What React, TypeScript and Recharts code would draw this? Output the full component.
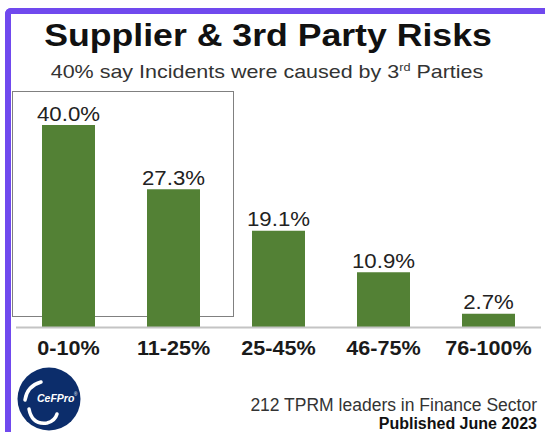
import React from 'react';
import { BarChart, Bar, XAxis, YAxis, LabelList } from 'recharts';

const categories = ['0-10%', '11-25%', '25-45%', '46-75%', '76-100%'];
const values = [40.0, 27.3, 19.1, 10.9, 2.7];
const valueLabels = ['40.0%', '27.3%', '19.1%', '10.9%', '2.7%'];

const TITLE = 'Supplier & 3rd Party Risks';
const SUB_A = '40% say Incidents were caused by 3';
const SUB_SUP = 'rd';
const SUB_B = ' Parties';
const FOOT_1 = '212 TPRM leaders in Finance Sector';
const FOOT_2 = 'Published June 2023';

const data = categories.map((c, i) => ({ name: c, value: values[i], label: valueLabels[i] }));

const FONT = '"Liberation Sans", Arial, sans-serif';
const BAR_COLOR = '#538135';

const Tick = (props: any) => {
  const { x, y, payload } = props;
  return (
    <text
      transform={`translate(${x},${y + 19}) scale(1.08,1)`}
      textAnchor="middle"
      fontFamily={FONT}
      fontWeight="bold"
      fontSize={20}
      fill="#1a1a1a"
    >
      {payload.value}
    </text>
  );
};

const ValueLabel = (props: any) => {
  const { x, y, width, index } = props;
  const cx = Number(x) + Number(width) / 2;
  return (
    <text
      transform={`translate(${cx},${Number(y) - 4.5}) scale(1.14,1)`}
      textAnchor="middle"
      fontFamily={FONT}
      fontSize={19.5}
      fill="#222"
    >
      {valueLabels[index]}
    </text>
  );
};

export default function App() {
  return (
    <div
      style={{
        position: 'absolute',
        left: 0,
        top: 0,
        width: 545,
        height: 432,
        overflow: 'hidden',
        background: '#fff',
      }}
    >
      <div
        style={{
          position: 'absolute',
          left: 5,
          top: 7.5,
          width: 540,
          height: 424.5,
          boxSizing: 'border-box',
          borderLeft: '6px solid #7049EE',
          borderTop: '6px solid #7049EE',
          borderTopLeftRadius: 6,
        }}
      />
      <svg width={545} height={432} style={{ position: 'absolute', left: 0, top: 0 }}>
        <rect x={12.5} y={91.5} width={221} height={225} fill="none" stroke="#808080" strokeWidth={1} />
        <text
          transform="translate(268,46) scale(1.15,1)"
          textAnchor="middle"
          fontFamily={FONT}
          fontWeight="bold"
          fontSize={31}
          fill="#111"
        >
          {TITLE}
        </text>
        <text
          transform="translate(267,78.3) scale(1.155,1)"
          textAnchor="middle"
          fontFamily={FONT}
          fontSize={18.6}
          fill="#333"
        >
          {SUB_A}
          <tspan fontSize={11} dy={-7}>{SUB_SUP}</tspan>
          <tspan dy={7}>{SUB_B}</tspan>
        </text>
        <text x={537} y={410.5} textAnchor="end" fontFamily={FONT} fontSize={17.5} fill="#333">
          {FOOT_1}
        </text>
        <text x={537} y={429} textAnchor="end" fontFamily={FONT} fontWeight="bold" fontSize={16} fill="#111">
          {FOOT_2}
        </text>
        <circle cx={49} cy={399} r={31.5} fill="#0c2d6b" />
        <path d="M 25 400 Q 27 386 41 382" stroke="#fff" strokeWidth={3.5} fill="none" strokeLinecap="round" />
        <path d="M 29 409 Q 32 425 47 423 Q 55 421 57 414" stroke="#fff" strokeWidth={3.5} fill="none" strokeLinecap="round" />
        <text x={37} y={402} fontFamily={FONT} fontWeight="bold" fontStyle="italic" fontSize={10.5} fill="#fff">
          CeFPro
        </text>
        <text x={74} y={396} fontFamily={FONT} fontSize={4.5} fill="#fff">®</text>
      </svg>
      <div style={{ position: 'absolute', left: 0, top: 0 }}>
        <BarChart
          width={545}
          height={432}
          data={data}
          margin={{ top: 125, right: 4, bottom: 74.5, left: 16 }}
          barSize={53}
        >
          <XAxis
            dataKey="name"
            height={30}
            axisLine={{ stroke: '#c4c4c4', strokeWidth: 2 }}
            tickLine={false}
            tick={<Tick />}
            interval={0}
          />
          <YAxis hide domain={[0, 40]} />
          <Bar dataKey="value" fill={BAR_COLOR} isAnimationActive={false}>
            <LabelList dataKey="value" content={<ValueLabel />} />
          </Bar>
        </BarChart>
      </div>
    </div>
  );
}
